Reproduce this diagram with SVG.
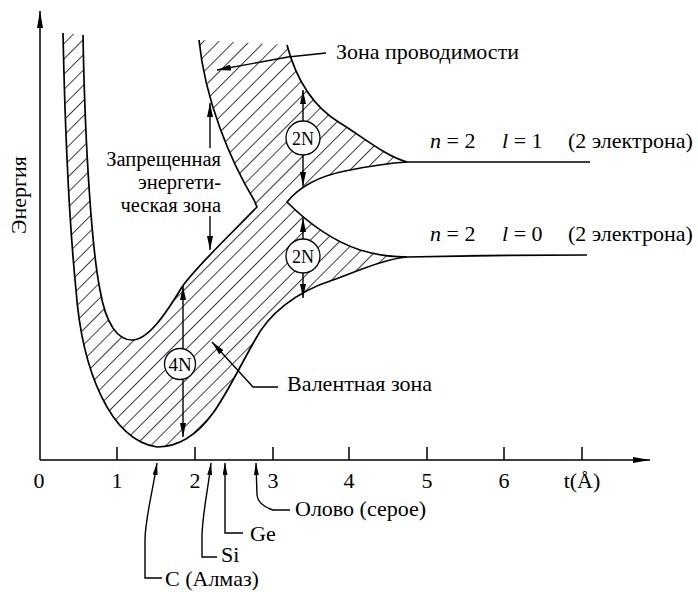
<svg xmlns="http://www.w3.org/2000/svg" width="698" height="592" viewBox="0 0 698 592">
<defs>
<style>
text{font-family:"Liberation Serif","Times New Roman",serif;font-size:22px;fill:#000}
.ln{fill:none;stroke:#000;stroke-width:1.5}
.bd{fill:none;stroke:#000;stroke-width:1.7;stroke-linejoin:round}
.ar{fill:none;stroke:#000;stroke-width:1.4;marker-end:url(#ah)}
.pt{fill:none;stroke:#000;stroke-width:1.4;marker-end:url(#as)}
.ci{fill:#fff;stroke:#000;stroke-width:1.3}
.cl{font-size:18px}
.gl{font-size:20.5px}
</style>
<pattern id="hatch" width="10.8" height="10.8" patternUnits="userSpaceOnUse" patternTransform="rotate(45)">
<line x1="0" y1="-1" x2="0" y2="12" stroke="#000" stroke-width="1.5"/>
</pattern>
<marker id="ah" viewBox="0 0 14 6" refX="14" refY="3" markerWidth="14" markerHeight="6" markerUnits="userSpaceOnUse" orient="auto"><path d="M0,0 L14,3 L0,6 Z" fill="#000"/></marker>
<marker id="as" viewBox="0 0 12 5" refX="12" refY="2.5" markerWidth="12" markerHeight="5" markerUnits="userSpaceOnUse" orient="auto"><path d="M0,0 L12,2.5 L0,5 Z" fill="#000"/></marker>
<marker id="ax" viewBox="0 0 17 6" refX="17" refY="3" markerWidth="17" markerHeight="6" markerUnits="userSpaceOnUse" orient="auto"><path d="M0,0 L17,3 L0,6 Z" fill="#000"/></marker>
</defs>
<rect width="698" height="592" fill="#fff"/>

<g id="axes">
<path class="ln" d="M40,460 L40,11" marker-end="url(#ax)"/>
<path class="ln" d="M40,460 L650,460" marker-end="url(#ax)"/>
<path class="ln" d="M117,460V447M195,460V447M273,460V447M349,460V447M427,460V447M504,460V447M582,460V447"/>
<g text-anchor="middle">
<text x="39" y="488">0</text>
<text x="117" y="488">1</text>
<text x="195" y="488">2</text>
<text x="273" y="488">3</text>
<text x="349" y="488">4</text>
<text x="427" y="488">5</text>
<text x="504" y="488">6</text>
<text x="582" y="488">t(Å)</text>
</g>
<text transform="translate(26,195) rotate(-90)" text-anchor="middle">Энергия</text>
</g>

<g id="bands">
<path fill="url(#hatch)" stroke="none" d="M63,33 C65,130 70,230 76,290 C82,370 110,440 157,447 C175,447 195,438 213,413 C225,397 238,370 255,340 C268,315 295,292 333,280 C360,270 385,259 407,257 C395,257 380,256 360,250 C330,240 305,220 287,202 C300,186 320,176 345,171 C370,166 390,163 407,162 C385,156 360,135 340,123 C310,105 295,75 287,45 L199,40 C205,100 230,160 254,200 L257,207 C225,240 195,268 182,287 C165,315 148,340 132,340 C118,340 106,325 100,290 C92,250 85,150 83,35 Z"/>
<path class="bd" d="M63,33 C65,130 70,230 76,290 C82,370 110,440 157,447 C175,447 195,438 213,413 C225,397 238,370 255,340 C268,315 295,292 333,280 C360,270 385,259 407,257 C450,256 520,255 587,255"/>
<path class="bd" d="M83,35 C85,150 92,250 100,290 C106,325 118,340 132,340 C148,340 165,315 182,287 C195,268 225,240 257,207 L254,200 C230,160 205,100 199,40"/>
<path class="bd" d="M287,45 C295,75 310,105 340,123 C360,135 385,156 407,162 L590,162"/>
<path class="bd" d="M407,162 C390,163 370,166 345,171 C320,176 300,186 287,202 C305,220 330,240 360,250 C380,256 395,257 407,257"/>
</g>

<g id="n4N">
<path class="ar" d="M183,349 L183,286"/>
<path class="ar" d="M183,380 L183,437"/>
<circle class="ci" cx="180" cy="364" r="15.5"/>
<text x="180" y="371" text-anchor="middle" style="font-size:19px">4N</text>
</g>
<g id="n2N_upper">
<path class="ar" d="M303,121 L303,90"/>
<path class="ar" d="M303,155 L303,186"/>
<circle class="ci" cx="303" cy="138" r="17"/>
<text class="cl" x="303" y="144.5" text-anchor="middle">2N</text>
</g>
<g id="n2N_lower">
<path class="ar" d="M303,239 L303,218"/>
<path class="ar" d="M303,273 L303,298"/>
<circle class="ci" cx="303" cy="256" r="17"/>
<text class="cl" x="303" y="262.5" text-anchor="middle">2N</text>
</g>

<g id="gap_label">
<path class="ar" d="M210,148 L210,103"/>
<path class="ar" d="M210,216 L210,250"/>
<text class="gl" x="221" y="166" text-anchor="end">Запрещенная</text>
<text class="gl" x="221" y="189" text-anchor="end">энергети-</text>
<text class="gl" x="221" y="212" text-anchor="end">ческая зона</text>
</g>

<g id="conduction_label">
<path class="ar" d="M326,53 L288,57 L217,70"/>
<text x="336" y="59">Зона проводимости</text>
</g>

<g id="valence_label">
<path class="ar" d="M278,387 L253,387 L212,342"/>
<text x="287" y="391">Валентная зона</text>
</g>

<g id="level_labels">
<text x="430" y="148"><tspan font-style="italic">n</tspan> = 2</text>
<text x="502" y="148"><tspan font-style="italic">l</tspan> = 1</text>
<text x="568" y="148">(2 электрона)</text>
<text x="430" y="241"><tspan font-style="italic">n</tspan> = 2</text>
<text x="502" y="241"><tspan font-style="italic">l</tspan> = 0</text>
<text x="568" y="241">(2 электрона)</text>
</g>

<g id="pointers">
<path class="pt" d="M162,578 L145,578 L145,540 C145,520 152,495 157,463"/>
<path class="pt" d="M217,557 L202,557 L202,535 C203,510 208,490 211,463"/>
<path class="pt" d="M243,533 L225,533 L225,463"/>
<path class="pt" d="M290,510 L273,510 Q258,505 257,495 L256,463"/>
<text x="165" y="586">C (Алмаз)</text>
<text x="221" y="562">Si</text>
<text x="250" y="541">Ge</text>
<text x="295" y="516">Олово (серое)</text>
</g>
</svg>
